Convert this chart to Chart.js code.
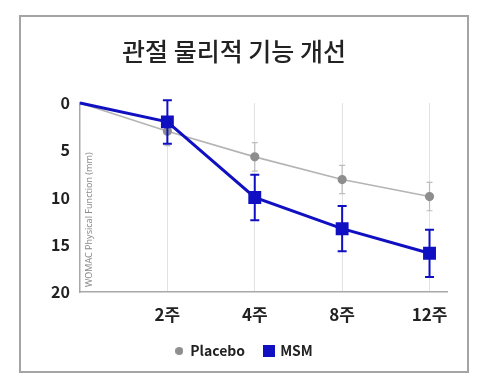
<!DOCTYPE html>
<html>
<head>
<meta charset="utf-8">
<script src="https://cdn.jsdelivr.net/npm/chart.js@4.4.1/dist/chart.umd.min.js"></script>
<style>
  html, body { margin: 0; padding: 0; background: #ffffff; }
  body { width: 486px; height: 387px; position: relative; overflow: hidden; }
  #frame { position: absolute; left: 19px; top: 15px; width: 446px; height: 354px; border: 2px solid #a4a4a4; background: #fff; }
  #frame canvas { display: block; }
</style>
</head>
<body>
<div id="frame"><canvas id="c"></canvas></div>
<script>
// ---- data ----
const categories = ['0', '2주', '4주', '8주', '12주'];
const weekIndex = [0, 1, 2, 3, 4];
const placeboValues = [0, 3.0, 5.7, 8.1, 9.9];
const placeboErrors = [0, 1.5, 1.5, 1.5, 1.5];
const msmValues = [0, 2.0, 10.0, 13.3, 15.9];
const msmErrors = [0, 2.3, 2.4, 2.4, 2.5];
const yTicks = [0, 5, 10, 15, 20];
const titleText = '관절 물리적 기능 개선';
const yAxisTitle = 'WOMAC Physical Function (mm)';
const seriesNames = ['Placebo', 'MSM'];

const FONT = "'Noto Sans CJK KR', 'Noto Sans', sans-serif";
const MSM_BLUE = '#1010c2';
const PLACEBO_LINE = '#b4b4b4';
const PLACEBO_POINT = '#8e8e8e';

function makeCircle(d, color) {
  const cv = document.createElement('canvas');
  cv.width = d; cv.height = d;
  const g = cv.getContext('2d');
  g.fillStyle = color;
  g.beginPath(); g.arc(d / 2, d / 2, d / 2, 0, Math.PI * 2); g.fill();
  return cv;
}
function makeSquare(s, color) {
  const cv = document.createElement('canvas');
  cv.width = s; cv.height = s;
  const g = cv.getContext('2d');
  g.fillStyle = color; g.fillRect(0, 0, s, s);
  return cv;
}
const legendCircle = makeCircle(8, PLACEBO_POINT);
const legendSquare = makeSquare(12, MSM_BLUE);

const errorBarsPlugin = {
  id: 'errorBars',
  drawSet(chart, values, errors, color, width, capHalf) {
    const xs = chart.scales.x, ys = chart.scales.y, ctx = chart.ctx;
    ctx.save();
    ctx.strokeStyle = color;
    ctx.lineWidth = width;
    for (let i = 0; i < values.length; i++) {
      if (!errors[i]) continue;
      const x = xs.getPixelForValue(weekIndex[i]);
      const yTop = ys.getPixelForValue(values[i] - errors[i]);
      const yBot = ys.getPixelForValue(values[i] + errors[i]);
      ctx.beginPath();
      ctx.moveTo(x, yTop); ctx.lineTo(x, yBot);
      ctx.moveTo(x - capHalf, yTop); ctx.lineTo(x + capHalf, yTop);
      ctx.moveTo(x - capHalf, yBot); ctx.lineTo(x + capHalf, yBot);
      ctx.stroke();
    }
    ctx.restore();
  },
  beforeDatasetsDraw(chart) {
    this.drawSet(chart, placeboValues, placeboErrors, '#bdbdbd', 1.2, 3);
  },
  afterDatasetsDraw(chart) {
    this.drawSet(chart, msmValues, msmErrors, MSM_BLUE, 2, 4.5);
  }
};

const innerAxisTitle = {
  id: 'innerAxisTitle',
  beforeDatasetsDraw(chart) {
    const a = chart.chartArea, ctx = chart.ctx;
    ctx.save();
    ctx.translate(a.left + 9, a.bottom - 5);
    ctx.rotate(-Math.PI / 2);
    ctx.font = "9px 'Noto Sans', sans-serif";
    ctx.fillStyle = '#8a8a8a';
    ctx.textAlign = 'left';
    ctx.textBaseline = 'middle';
    ctx.fillText(yAxisTitle, 0, 0);
    ctx.restore();
  }
};

// legend rows include trailing item padding; recentre the row
const legendCentre = {
  id: 'legendCentre',
  afterLayout(chart) {
    const lg = chart.legend;
    if (lg) {
      const half = lg.options.labels.padding / 2;
      lg.left += half;
      lg.right += half;
    }
  }
};

new Chart(document.getElementById('c'), {
  type: 'line',
  data: {
    datasets: [
      {
        label: seriesNames[0],
        data: weekIndex.map((x, i) => ({ x: x, y: placeboValues[i] })),
        borderColor: PLACEBO_LINE,
        borderWidth: 1.6,
        pointBackgroundColor: PLACEBO_POINT,
        pointBorderColor: PLACEBO_POINT,
        pointRadius: weekIndex.map(i => i === 0 ? 0 : 3.8),
        pointStyle: 'circle',
        tension: 0,
        clip: false,
        order: 2
      },
      {
        label: seriesNames[1],
        data: weekIndex.map((x, i) => ({ x: x, y: msmValues[i] })),
        borderColor: MSM_BLUE,
        borderWidth: 3,
        pointBackgroundColor: MSM_BLUE,
        pointBorderColor: MSM_BLUE,
        pointRadius: weekIndex.map(i => i === 0 ? 0 : 7),
        pointStyle: 'rect',
        tension: 0,
        clip: false,
        order: 1
      }
    ]
  },
  options: {
    responsive: true,
    maintainAspectRatio: false,
    animation: false,
    events: [],
    layout: { padding: { left: 0, right: 20, top: 0, bottom: 3 } },
    plugins: {
      title: {
        display: true,
        text: titleText,
        color: '#222222',
        font: { family: FONT, size: 25, weight: '500' },
        padding: { top: 19, bottom: 37 }
      },
      legend: {
        display: true,
        position: 'bottom',
        labels: {
          usePointStyle: true,
          pointStyleWidth: 8,
          padding: 20,
          color: '#222222',
          font: { family: FONT, size: 14, weight: 'bold' },
          generateLabels: () => [
            { text: seriesNames[0], pointStyle: legendCircle, datasetIndex: 0, lineWidth: 0, fillStyle: PLACEBO_POINT, strokeStyle: PLACEBO_POINT, fontColor: '#222222' },
            { text: seriesNames[1], pointStyle: legendSquare, datasetIndex: 1, lineWidth: 0, fillStyle: MSM_BLUE, strokeStyle: MSM_BLUE, fontColor: '#222222' }
          ]
        }
      },
      tooltip: { enabled: false }
    },
    scales: {
      x: {
        type: 'linear',
        min: 0,
        max: 4.2,
        afterBuildTicks: (s) => { s.ticks = weekIndex.map(v => ({ value: v })); },
        afterFit: (s) => { s.height = 32; },
        ticks: {
          padding: 12,
          color: '#222222',
          font: { family: FONT, size: 17, weight: 'bold' },
          maxRotation: 0,
          autoSkip: false,
          callback: (v) => (v === 0 ? '' : categories[v])
        },
        grid: {
          drawTicks: false,
          color: (ctx) => (ctx.tick && ctx.tick.value === 0 ? 'rgba(0,0,0,0)' : '#e2e2e2'),
          lineWidth: 1
        },
        border: { display: true, color: '#a8a8a8', width: 1.5 }
      },
      y: {
        type: 'linear',
        reverse: true,
        min: 0,
        max: 20,
        afterBuildTicks: (s) => { s.ticks = yTicks.map(v => ({ value: v })); },
        afterFit: (s) => { s.width = 59; },
        ticks: {
          padding: 10,
          color: '#222222',
          font: { family: FONT, size: 16, weight: 'bold' }
        },
        grid: { display: false, drawTicks: false },
        border: { display: true, color: '#a8a8a8', width: 1.5 }
      }
    }
  },
  plugins: [errorBarsPlugin, innerAxisTitle, legendCentre]
});
</script>
</body>
</html>
